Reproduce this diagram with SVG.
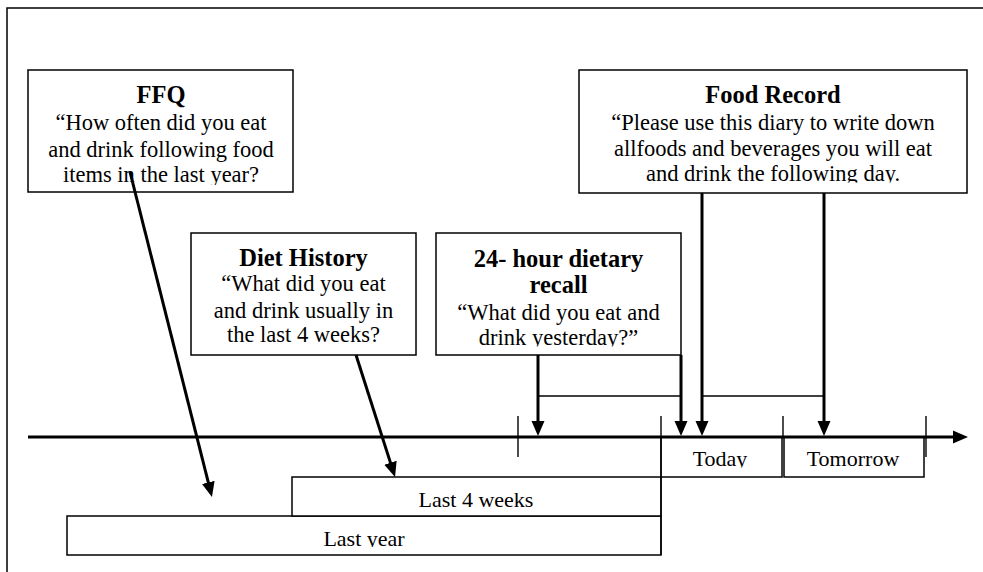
<svg xmlns="http://www.w3.org/2000/svg" width="983" height="572" viewBox="0 0 983 572">
  <style>
    .box { fill: #fff; stroke: #000; stroke-width: 1.5; }
    .frame { fill: none; stroke: #000; stroke-width: 1.5; }
    .title { font-family: "Liberation Serif", "Times New Roman", serif; font-size: 24.5px; font-weight: bold; text-anchor: middle; fill: #000; }
    .body { font-family: "Liberation Serif", "Times New Roman", serif; font-size: 22.5px; text-anchor: middle; fill: #000; }
    .lbl { font-family: "Liberation Serif", "Times New Roman", serif; font-size: 22px; text-anchor: middle; fill: #000; }
    .arrow { stroke: #000; stroke-width: 3; fill: none; marker-end: url(#head); }
    .thin { stroke: #000; stroke-width: 1.4; fill: none; }
    .axis { stroke: #000; stroke-width: 3; fill: none; marker-end: url(#head); }
  </style>
  <defs>
    <marker id="head" markerUnits="userSpaceOnUse" markerWidth="16" markerHeight="14" refX="7" refY="7" orient="auto">
      <path d="M0,0.5 L15,7 L0,13.5 Z" fill="#000"/>
    </marker>
    <!-- text frames are a little shorter than their boxes, so descenders on the last line are cut -->
    <clipPath id="clipFfq"><rect x="28" y="70" width="265" height="115"/></clipPath>
    <clipPath id="clipRecord"><rect x="579" y="70" width="388" height="112.5"/></clipPath>
    <clipPath id="clipRecall"><rect x="436" y="233" width="245" height="113.5"/></clipPath>
    <clipPath id="clipDays"><rect x="661" y="437" width="263" height="30.5"/></clipPath>
    <clipPath id="clipYear"><rect x="67" y="516" width="594" height="31"/></clipPath>
  </defs>

  <rect width="983" height="572" fill="#fff"/>
  <!-- page frame -->
  <rect class="frame" x="7" y="8" width="990" height="600"/>

  <!-- time periods under the axis -->
  <g id="period-last-year">
    <rect class="box" x="67" y="516" width="594" height="39"/>
    <text class="lbl" x="364" y="545.5" clip-path="url(#clipYear)">Last year</text>
  </g>
  <g id="period-last-4-weeks">
    <rect class="box" x="292" y="477" width="369" height="39"/>
    <text class="lbl" x="476" y="506.5">Last 4 weeks</text>
  </g>
  <g id="period-today">
    <rect class="box" x="661" y="437" width="121" height="40"/>
    <text class="lbl" x="720" y="466" clip-path="url(#clipDays)">Today</text>
  </g>
  <g id="period-tomorrow">
    <rect class="box" x="784" y="437" width="140" height="40"/>
    <text class="lbl" x="853" y="466" clip-path="url(#clipDays)">Tomorrow</text>
  </g>

  <!-- method boxes -->
  <g id="ffq">
    <rect class="box" x="28" y="70" width="265" height="122"/>
    <g clip-path="url(#clipFfq)">
      <text class="title" x="161" y="103">FFQ</text>
      <text class="body" x="161" y="130">“How often did you eat</text>
      <text class="body" x="161" y="156.5">and drink following food</text>
      <text class="body" x="161" y="182">items in the last year?</text>
    </g>
  </g>
  <g id="food-record">
    <rect class="box" x="579" y="70" width="388" height="123"/>
    <g clip-path="url(#clipRecord)">
      <text class="title" x="773" y="103">Food Record</text>
      <text class="body" x="773" y="130">“Please use this diary to write down</text>
      <text class="body" x="773" y="156">allfoods and beverages you will eat</text>
      <text class="body" x="773" y="181">and drink the following day.</text>
    </g>
  </g>
  <g id="diet-history">
    <rect class="box" x="191" y="233" width="225" height="122"/>
    <text class="title" x="303.5" y="265.5">Diet History</text>
    <text class="body" x="303.5" y="291">“What did you eat</text>
    <text class="body" x="303.5" y="318">and drink usually in</text>
    <text class="body" x="303.5" y="342">the last 4 weeks?</text>
  </g>
  <g id="recall-24h">
    <rect class="box" x="436" y="233" width="245" height="122"/>
    <g clip-path="url(#clipRecall)">
      <text class="title" x="558.5" y="266.5">24- hour dietary</text>
      <text class="title" x="558.5" y="293">recall</text>
      <text class="body" x="558.5" y="320">“What did you eat and</text>
      <text class="body" x="558.5" y="345">drink yesterday?”</text>
    </g>
  </g>

  <!-- time axis, ticks and pointers -->
  <g id="connectors">
    <line class="axis" x1="28" y1="437" x2="960" y2="437"/>
    <line class="thin" x1="518" y1="416" x2="518" y2="457"/>
    <line class="thin" x1="661" y1="416" x2="661" y2="555"/>
    <line class="thin" x1="783" y1="416" x2="783" y2="437"/>
    <line class="thin" x1="926" y1="416" x2="926" y2="457"/>

    <line class="arrow" x1="130" y1="172" x2="210.0" y2="489.2"/>
    <line class="arrow" x1="356" y1="355" x2="392.6" y2="469.4"/>

    <line class="arrow" x1="538" y1="355" x2="538" y2="428"/>
    <line class="arrow" x1="681" y1="355" x2="681" y2="428"/>
    <line class="thin" x1="538" y1="396" x2="681" y2="396"/>

    <line class="arrow" x1="702" y1="193" x2="702" y2="428"/>
    <line class="arrow" x1="824" y1="193" x2="824" y2="428"/>
    <line class="thin" x1="702" y1="396" x2="824" y2="396"/>
  </g>
</svg>
